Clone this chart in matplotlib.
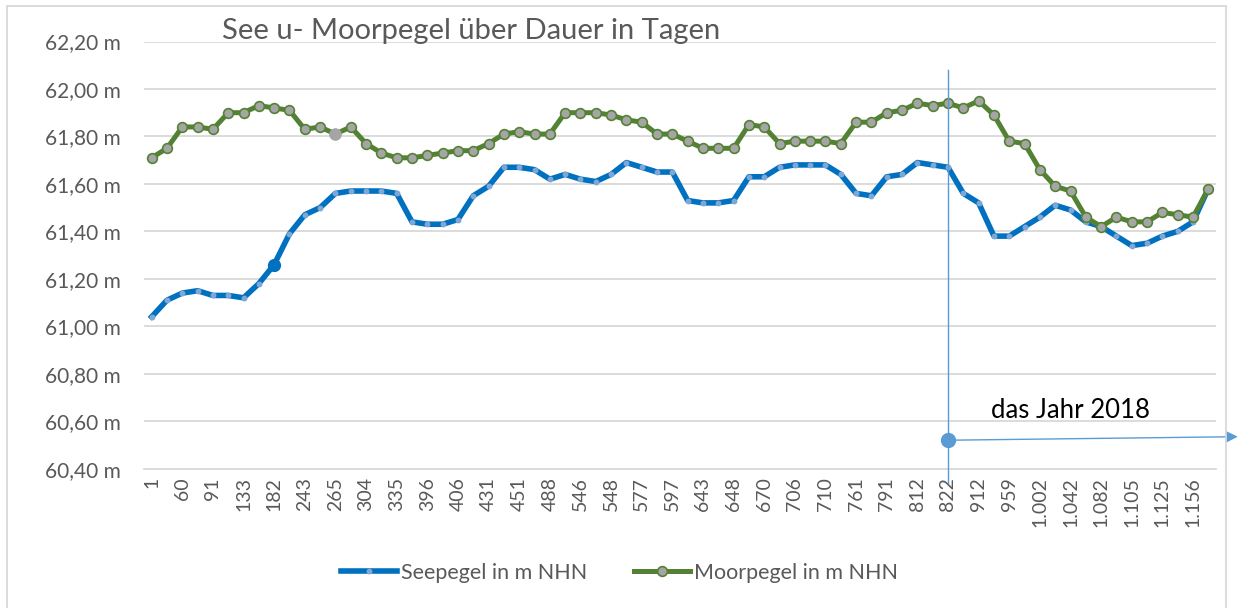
import numpy as np
import matplotlib
matplotlib.use('Agg')
import matplotlib.pyplot as plt
from matplotlib.patches import Rectangle

# Schrift ähnlich Calibri
plt.rcParams['font.family'] = ['Lato', 'DejaVu Sans']

######## DATEN #########
# Beschriftete Tage (jeder zweite Messpunkt)
tage_labels = ["1", "60", "91", "133", "182", "243", "265", "304", "335", "396",
               "406", "431", "451", "488", "546", "548", "577", "597", "643", "648",
               "670", "706", "710", "761", "791", "812", "822", "912", "959", "1.002",
               "1.042", "1.082", "1.105", "1.125", "1.156"]

seepegel = [61.04, 61.11, 61.14, 61.15, 61.13, 61.13, 61.12, 61.18, 61.26, 61.39,
            61.47, 61.50, 61.56, 61.57, 61.57, 61.57, 61.56, 61.44, 61.43, 61.43,
            61.45, 61.55, 61.59, 61.67, 61.67, 61.66, 61.62, 61.64, 61.62, 61.61,
            61.64, 61.69, 61.67, 61.65, 61.65, 61.53, 61.52, 61.52, 61.53, 61.63,
            61.63, 61.67, 61.68, 61.68, 61.68, 61.64, 61.56, 61.55, 61.63, 61.64,
            61.69, 61.68, 61.67, 61.56, 61.52, 61.38, 61.38, 61.42, 61.46, 61.51,
            61.49, 61.44, 61.42, 61.38, 61.34, 61.35, 61.38, 61.40, 61.44, 61.58]

moorpegel = [61.71, 61.75, 61.84, 61.84, 61.83, 61.90, 61.90, 61.93, 61.92, 61.91,
             61.83, 61.84, 61.81, 61.84, 61.77, 61.73, 61.71, 61.71, 61.72, 61.73,
             61.74, 61.74, 61.77, 61.81, 61.82, 61.81, 61.81, 61.90, 61.90, 61.90,
             61.89, 61.87, 61.86, 61.81, 61.81, 61.78, 61.75, 61.75, 61.75, 61.85,
             61.84, 61.77, 61.78, 61.78, 61.78, 61.77, 61.86, 61.86, 61.90, 61.91,
             61.94, 61.93, 61.94, 61.92, 61.95, 61.89, 61.78, 61.77, 61.66, 61.59,
             61.57, 61.46, 61.42, 61.46, 61.44, 61.44, 61.48, 61.47, 61.46, 61.58]

y_ticks = [60.40, 60.60, 60.80, 61.00, 61.20, 61.40, 61.60, 61.80, 62.00, 62.20]
jahr_2018_label = "822"
########################

blau = '#0070C0'
gruen = '#548235'
grau_txt = '#595959'
grid_c = '#D9D9D9'
anno_c = '#5B9BD5'

x = np.arange(len(seepegel))

fig = plt.figure(figsize=(12.39, 6.08), dpi=100)
ax = fig.add_axes([144/1239, 1 - 468.7/608, (1216-144)/1239, (468.7-41.5)/608])

# Rahmen des Diagramms
fig.patches.append(Rectangle((7/1239, -0.02), (1226-7)/1239, 1.01, transform=fig.transFigure,
                             fill=False, edgecolor=grid_c, lw=1.3))

ax.plot(x, seepegel, color=blau, lw=4.0, marker='o', ms=3.2, mfc='#7FA7D6', mec='#7FA7D6',
        solid_joinstyle='round', label='Seepegel in m NHN', zorder=3)
ax.plot(x, moorpegel, color=gruen, lw=3.6, marker='o', ms=7.0, mfc='#A5A5A5', mec=gruen, mew=1.2,
        solid_joinstyle='round', label='Moorpegel in m NHN', zorder=4)

# hervorgehobene Punkte
ax.plot(x[8], seepegel[8], 'o', ms=8.5, color=blau, zorder=5)
ax.plot(x[12], moorpegel[12], 'o', ms=8, color='#A5A5A5', zorder=5)

ax.set_xlim(-0.5, len(x) - 0.5)
ax.set_ylim(y_ticks[0], y_ticks[-1])
ax.set_yticks(y_ticks)
ax.set_yticklabels([('%.2f m' % v).replace('.', ',') for v in y_ticks])
ax.set_xticks(x[::2])
ax.set_xticklabels(tage_labels, rotation=90)
ax.tick_params(axis='y', length=0, pad=17, labelsize=15, labelcolor=grau_txt)
ax.tick_params(axis='x', length=0, pad=6, labelsize=14, labelcolor=grau_txt)

ax.grid(axis='y', color=grid_c, lw=1.3)
ax.set_axisbelow(True)
for s in ['top', 'right', 'left']:
    ax.spines[s].set_visible(False)
ax.spines['bottom'].set_color(grid_c)
ax.spines['bottom'].set_linewidth(1.3)

# Markierung "das Jahr 2018"
i18 = tage_labels.index(jahr_2018_label) * 2
ax.plot([i18, i18], [60.34, 62.08], color=anno_c, lw=1.0, clip_on=False, zorder=6)
ax.plot(i18, 60.52, 'o', ms=10, color=anno_c, clip_on=False, zorder=6)
ax.annotate('', xy=(71.1, 60.535), xytext=(i18, 60.52),
            arrowprops=dict(arrowstyle='-|>', color=anno_c, lw=1.0, mutation_scale=18),
            annotation_clip=False, zorder=6)
ax.text(60.0, 60.647, 'das Jahr 2018', fontsize=18.5, color='black', ha='center', va='center')

fig.text(222/1239, 1 - 31/608, 'See u- Moorpegel über Dauer in Tagen', fontsize=21,
         color=grau_txt, ha='left', va='center')

leg = fig.legend(loc='center', bbox_to_anchor=(0.5, 1 - 573/608), ncol=2, frameon=False,
                 fontsize=15.5, handlelength=2.6, columnspacing=2.2, handletextpad=0.15)
for t in leg.get_texts():
    t.set_color(grau_txt)

fig.savefig('out.png', dpi=100)
